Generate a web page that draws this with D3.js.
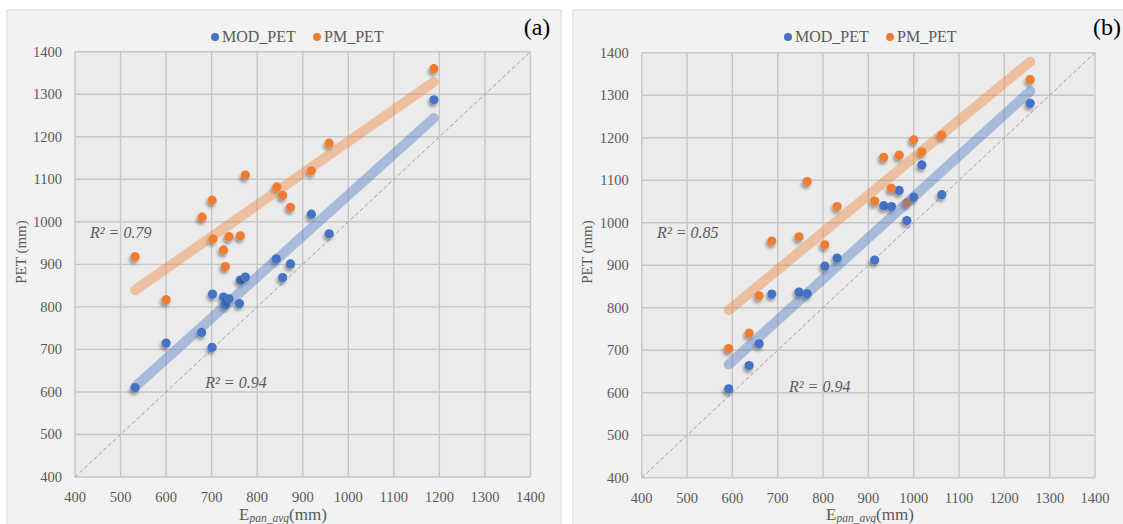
<!DOCTYPE html>
<html>
<head>
<meta charset="utf-8">
<script src="https://cdn.jsdelivr.net/npm/d3@7"></script>
<style>
  body { margin: 0; background: #ffffff; }
  svg { display: block; }
</style>
</head>
<body>
<svg width="1123" height="524"></svg>
<script>
// panel (a) values
const aModX = [532, 600, 678, 701, 702, 726, 730, 738, 761, 763, 774, 842, 856, 873, 919, 958, 1188];
const aModY = [610, 715, 740, 705, 830, 823, 805, 819, 808, 863, 870, 913, 869, 901, 1018, 972, 1287];
const aPmX = [532, 600, 679, 701, 703, 726, 730, 738, 763, 774, 843, 856, 873, 919, 958, 1188];
const aPmY = [918, 817, 1011, 1051, 960, 934, 895, 965, 967, 1110, 1082, 1062, 1034, 1120, 1185, 1360];

// panel (b) values
const bX = [592, 637, 659, 687, 747, 765, 804, 831, 914, 934, 951, 968, 985, 1000, 1018, 1062, 1257];
const bModY = [609, 664, 715, 832, 837, 833, 898, 917, 912, 1040, 1038, 1076, 1005, 1060, 1136, 1066, 1281];
const bPmY = [704, 740, 828, 957, 967, 1097, 948, 1038, 1051, 1154, 1081, 1159, 1047, 1195, 1167, 1206, 1337];

const ticks = [400, 500, 600, 700, 800, 900, 1000, 1100, 1200, 1300, 1400];
const seriesNames = ["MOD_PET", "PM_PET"];
const r2a = ["R² = 0.94", "R² = 0.79"];
const r2b = ["R² = 0.94", "R² = 0.85"];

const BLUE = "#4472c4", ORANGE = "#ed7d31", TXT = "#595959";
const FONT = "'Liberation Serif', 'Times New Roman', serif";
const svg = d3.select("svg");

// drop shadow like the excel markers
const f = svg.append("defs").append("filter").attr("id", "sh")
    .attr("x", "-100%").attr("y", "-100%").attr("width", "300%").attr("height", "300%");
f.append("feDropShadow").attr("dx", -1.5).attr("dy", 3).attr("stdDeviation", 1.4)
    .attr("flood-color", "#000").attr("flood-opacity", 0.35);

function fit(xs, ys){
    let mx = d3.mean(xs), my = d3.mean(ys);
    let b = d3.sum(xs, (x, i) => (x - mx) * (ys[i] - my)) / d3.sum(xs, x => (x - mx) * (x - mx));
    return x => my + b * (x - mx);
}

function panel(o){
    let g = svg.append("g");
    g.append("rect").attr("x", o.box[0]).attr("y", o.box[1])
        .attr("width", o.box[2]).attr("height", o.box[3])
        .attr("fill", "#f2f2f2").attr("stroke", "#d9d9d9");

    let x = d3.scaleLinear().domain([400, 1400]).range([o.plot[0], o.plot[2]]);
    let y = d3.scaleLinear().domain([400, 1400]).range([o.plot[3], o.plot[1]]);

    g.append("rect").attr("x", o.plot[0]).attr("y", o.plot[1])
        .attr("width", o.plot[2] - o.plot[0]).attr("height", o.plot[3] - o.plot[1])
        .attr("fill", "#ebebeb");

    // grid
    g.selectAll(".gx").data(ticks).join("line")
        .attr("x1", d => x(d)).attr("x2", d => x(d))
        .attr("y1", o.plot[1]).attr("y2", o.plot[3])
        .attr("stroke", "#c6c6c6").attr("stroke-width", 1.4);
    g.selectAll(".gy").data(ticks).join("line")
        .attr("y1", d => y(d)).attr("y2", d => y(d))
        .attr("x1", o.plot[0]).attr("x2", o.plot[2])
        .attr("stroke", "#c6c6c6").attr("stroke-width", 1.4);

    // tick labels
    g.selectAll(".tx").data(ticks).join("text")
        .attr("x", d => x(d)).attr("y", o.plot[3] + 25)
        .attr("text-anchor", "middle").attr("font-size", 14.5).attr("fill", TXT)
        .text(d => d);
    g.selectAll(".ty").data(ticks).join("text")
        .attr("x", o.plot[0] - 13).attr("y", d => y(d) + 5)
        .attr("text-anchor", "end").attr("font-size", 14.5).attr("fill", TXT)
        .text(d => d);

    // 1:1 line
    g.append("line").attr("x1", x(400)).attr("y1", y(400)).attr("x2", x(1400)).attr("y2", y(1400))
        .attr("stroke", "#a0a0a0").attr("stroke-width", 1).attr("stroke-dasharray", "4,2.5");

    // points
    o.series.forEach(s => {
        g.append("g").selectAll("circle").data(s.xs).join("circle")
            .attr("cx", d => x(d)).attr("cy", (d, i) => y(s.ys[i]))
            .attr("r", 4.6).attr("fill", s.color).attr("filter", "url(#sh)");
    });

    // trendlines on top, semi transparent
    o.series.slice().reverse().forEach(s => {
        let fn = fit(s.xs, s.ys);
        let x0 = d3.min(s.xs), x1 = d3.max(s.xs);
        g.append("line").attr("x1", x(x0)).attr("y1", y(fn(x0)))
            .attr("x2", x(x1)).attr("y2", y(fn(x1)))
            .attr("stroke", s.color).attr("stroke-opacity", 0.4)
            .attr("stroke-width", 10).attr("stroke-linecap", "round");
    });

    // R² labels
    o.series.forEach(s => {
        g.append("text").attr("x", x(s.lab[0])).attr("y", y(s.lab[1]))
            .attr("font-size", 16).attr("font-style", "italic").attr("fill", TXT)
            .text(s.r2);
    });

    // legend
    let lx = o.legend;
    o.series.forEach((s, i) => {
        let cx = lx + i * 102;
        g.append("circle").attr("cx", cx).attr("cy", 37).attr("r", 4).attr("fill", s.color);
        g.append("text").attr("x", cx + 7).attr("y", 42).attr("font-size", 16)
            .attr("fill", TXT).text(s.name);
    });

    // panel letter
    g.append("text").attr("x", o.box[0] + o.letterX).attr("y", 35)
        .attr("text-anchor", "middle").attr("font-size", 24).attr("fill", "#000").text(o.letter);

    // axis titles
    let xt = g.append("text").attr("x", o.xTitle).attr("y", 520)
        .attr("text-anchor", "middle").attr("font-size", 17).attr("fill", TXT);
    xt.append("tspan").text("E");
    xt.append("tspan").attr("font-size", 11.5).attr("font-style", "italic").attr("dy", 2).text("pan_avg");
    xt.append("tspan").attr("dy", -2).text("(mm)");

    g.append("text").attr("transform", `translate(${o.box[0] + 19},252) rotate(-90)`)
        .attr("text-anchor", "middle").attr("font-size", 15).attr("fill", TXT).text("PET (mm)");
}

panel({
    box: [7, 10, 554, 530],
    plot: [75, 51.7, 530.5, 477],
    legend: 215,
    letter: "(a)", letterX: 530,
    xTitle: 283,
    series: [
        {name: seriesNames[0], xs: aModX, ys: aModY, color: BLUE, r2: r2a[0], lab: [686, 609]},
        {name: seriesNames[1], xs: aPmX, ys: aPmY, color: ORANGE, r2: r2a[1], lab: [433, 962]}
    ]
});

panel({
    box: [573, 10, 560, 530],
    plot: [641.7, 52.7, 1095, 477.7],
    legend: 788,
    letter: "(b)", letterX: 534,
    xTitle: 870,
    series: [
        {name: seriesNames[0], xs: bX, ys: bModY, color: BLUE, r2: r2b[0], lab: [725, 602]},
        {name: seriesNames[1], xs: bX, ys: bPmY, color: ORANGE, r2: r2b[1], lab: [434, 964]}
    ]
});

svg.selectAll("text").style("font-family", FONT);
</script>
</body>
</html>
